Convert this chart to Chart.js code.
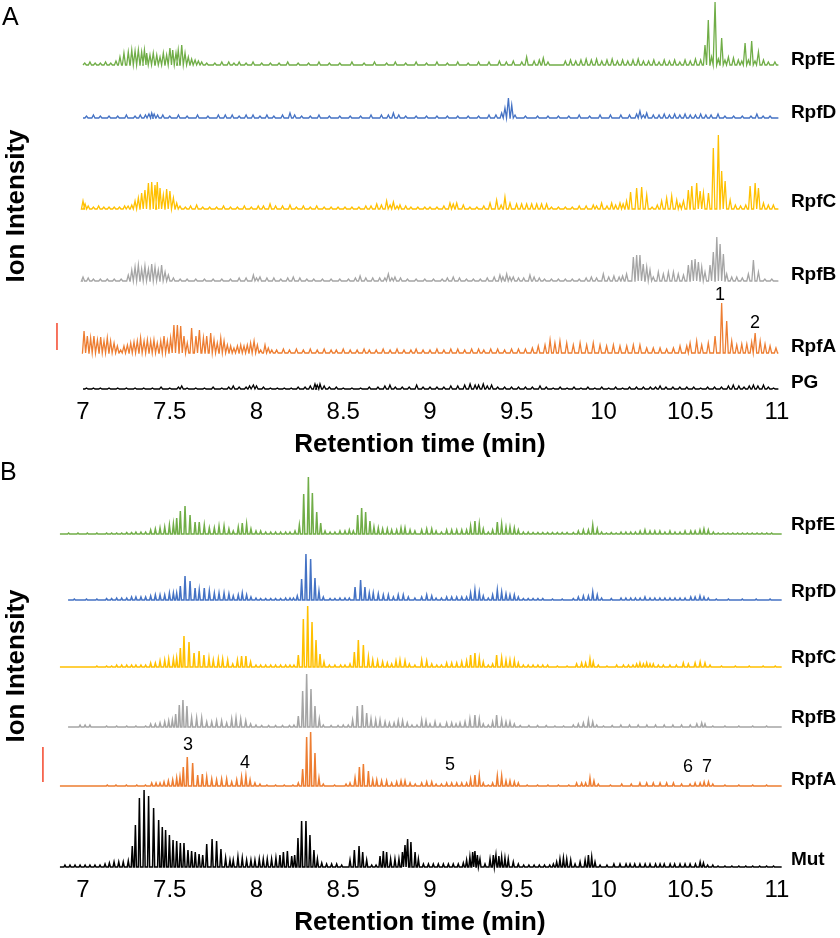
<!DOCTYPE html>
<html>
<head>
<meta charset="utf-8">
<script src="https://cdn.jsdelivr.net/npm/chart.js@4.4.1/dist/chart.umd.min.js"></script>
<style>
  body { margin: 0; background: #fff; }
  #wrap { position: relative; width: 840px; height: 938px; }
  .panel { position: absolute; left: 0; width: 840px; }
</style>
</head>
<body>
<div id="wrap">
  <div class="panel" style="top:0;height:462px"><canvas id="chartA"></canvas></div>
  <div class="panel" style="top:462px;height:476px"><canvas id="chartB"></canvas></div>
</div>
<script>
const FONT = "'Liberation Sans', Arial, Helvetica, sans-serif";

// x axis ticks (retention time, min)
const xTickValues = [7, 7.5, 8, 8.5, 9, 9.5, 10, 10.5, 11];

// ---- Panel A: peaks as [retention time, intensity] ----
const aRpfE = [[7.01,2],[7.04,3],[7.07,2],[7.10,2],[7.13,3],[7.16,2],[7.19,4],
  [7.213,8],[7.236,12],[7.261,13],[7.281,15],[7.300,14],[7.319,15],[7.338,13],[7.354,15],[7.367,12],[7.386,10],[7.405,12],[7.425,10],[7.444,8],[7.463,12],[7.482,10],[7.501,17],[7.517,15],[7.536,12],[7.549,15],[7.569,20],[7.588,12],[7.607,8],[7.626,6],[7.646,5],[7.665,4],[7.684,3],[7.713,2],
  [7.76,2],[7.80,3],[7.84,3],[7.87,2],[7.90,3],[7.94,2],[7.98,3],[8.03,2],[8.08,2],[8.13,2],[8.18,3],[8.24,2],[8.30,2],[8.36,3],[8.42,2],[8.48,2],[8.55,3],[8.62,2],[8.68,3],[8.75,2],[8.80,3],[8.86,2],[8.92,3],[8.98,2],[9.04,3],[9.10,2],[9.16,3],[9.22,2],[9.28,3],[9.34,3],[9.40,4],[9.44,3],[9.48,4],[9.529,3],[9.557,8],[9.60,4],[9.63,5],[9.653,7],[9.68,3],
  [9.78,4],[9.81,5],[9.84,4],[9.87,5],[9.90,6],[9.93,5],[9.96,6],[9.99,4],[10.02,5],[10.05,6],[10.08,4],[10.11,5],[10.14,4],[10.17,5],[10.20,6],[10.23,4],[10.26,4],[10.29,5],[10.32,3],[10.35,5],[10.38,4],[10.41,5],[10.44,3],[10.47,5],[10.50,4],[10.53,6],[10.56,5],
  [10.585,20],[10.604,45],[10.623,8],[10.643,63],[10.662,6],[10.681,27],[10.700,5],[10.720,8],[10.749,7],[10.777,5],[10.797,4],[10.816,22],[10.835,5],[10.854,24],[10.873,4],[10.893,13],[10.922,5],[10.950,3],[10.988,3]];

const aRpfD = [[7.02,2],[7.06,3],[7.10,2],[7.15,2],[7.20,2],[7.25,3],[7.30,2],[7.33,3],[7.36,3],[7.38,4],[7.396,5],[7.41,4],[7.43,3],[7.46,3],[7.50,2],[7.55,3],[7.60,2],[7.66,3],[7.72,2],[7.78,3],[7.82,3],[7.86,3],[7.90,2],[7.94,3],[7.98,3],[8.02,2],[8.06,3],[8.10,2],[8.15,3],[8.193,5],[8.22,3],[8.26,2],[8.31,2],[8.36,3],[8.42,2],[8.48,2],[8.54,2],[8.60,2],[8.66,3],[8.72,3],[8.76,3],[8.789,5],[8.82,3],[8.86,2],[8.92,2],[8.98,2],[9.04,2],[9.10,2],[9.16,2],[9.22,2],[9.28,2],[9.34,3],[9.38,3],
  [9.413,5],[9.432,10],[9.452,20],[9.471,13],[9.490,3],[9.55,2],[9.62,2],[9.68,2],[9.74,2],[9.80,2],[9.86,3],[9.92,2],[9.98,3],[10.04,3],[10.10,3],[10.15,3],[10.191,4],[10.210,7],[10.23,3],[10.249,5],[10.287,3],[10.32,3],[10.35,4],[10.38,3],[10.41,4],[10.44,3],[10.47,4],[10.50,3],[10.53,3],[10.56,4],[10.59,3],[10.62,3],[10.66,4],[10.70,2],[10.75,2],[10.80,2],[10.85,2],[10.884,4],[10.92,2],[10.96,2]];

const aRpfC = [[7.0,8],[7.012,5],[7.03,3],[7.06,2],[7.09,3],[7.12,2],[7.15,2],[7.18,2],[7.21,2],[7.24,3],[7.26,3],[7.281,4],[7.300,8],[7.319,11],[7.338,16],[7.357,19],[7.377,26],[7.396,27],[7.415,24],[7.428,27],[7.444,21],[7.463,14],[7.482,20],[7.501,18],[7.521,11],[7.540,6],[7.559,3],
  [7.59,2],[7.62,3],[7.655,4],[7.69,2],[7.73,2],[7.77,2],[7.81,3],[7.85,2],[7.89,2],[7.93,3],[7.97,2],[8.01,3],[8.04,3],[8.078,5],[8.11,3],[8.15,3],[8.193,4],[8.23,2],[8.27,3],[8.31,2],[8.347,3],[8.39,2],[8.43,2],[8.47,2],[8.51,2],[8.55,2],[8.59,2],[8.63,3],[8.66,3],[8.693,5],[8.72,4],[8.750,8],[8.77,4],[8.789,7],[8.81,3],[8.827,4],[8.86,3],[8.89,2],[8.93,2],[8.97,2],[9.00,2],[9.04,2],[9.08,3],
  [9.115,6],[9.134,5],[9.154,6],[9.192,4],[9.23,2],[9.27,2],[9.31,3],[9.346,6],[9.384,9],[9.41,4],[9.432,12],[9.461,6],[9.499,5],[9.528,5],[9.557,5],[9.586,5],[9.615,5],[9.643,5],[9.672,5],[9.70,2],[9.74,2],[9.78,2],[9.82,2],[9.86,3],[9.90,3],[9.941,4],[9.96,3],[9.989,6],[10.02,3],[10.047,6],[10.07,4],[10.095,6],[10.113,5],[10.133,8],
  [10.156,17],[10.191,21],[10.220,22],[10.249,14],[10.28,2],[10.31,4],[10.335,8],[10.364,11],[10.393,13],[10.422,9],[10.44,5],[10.461,8],[10.489,19],[10.509,23],[10.537,26],[10.557,18],[10.576,16],[10.605,16],[10.633,61],[10.662,74],[10.681,38],[10.701,28],[10.730,9],[10.76,4],[10.79,3],[10.82,4],[10.845,23],[10.874,26],[10.893,21],[10.922,6],[10.950,4],[10.979,4]];

const aRpfB = [[7.0,4],[7.03,3],[7.06,2],[7.10,2],[7.14,2],[7.18,2],[7.22,2],[7.261,6],[7.281,11],[7.300,14],[7.319,16],[7.338,12],[7.357,15],[7.377,12],[7.396,17],[7.415,14],[7.434,11],[7.453,16],[7.473,9],[7.492,6],[7.521,3],
  [7.56,2],[7.60,2],[7.65,2],[7.70,2],[7.75,2],[7.80,2],[7.85,2],[7.90,3],[7.94,3],[7.982,6],[8.00,3],[8.020,4],[8.06,3],[8.10,3],[8.14,2],[8.18,3],[8.212,4],[8.25,3],[8.29,2],[8.33,2],[8.38,2],[8.43,2],[8.48,2],[8.53,2],[8.57,3],[8.597,5],[8.63,3],[8.67,3],[8.71,3],[8.74,3],[8.760,7],[8.78,3],[8.798,4],[8.83,3],[8.87,2],[8.92,2],[8.97,2],[9.02,2],[9.07,2],[9.10,3],[9.134,4],[9.17,3],[9.21,2],[9.25,2],[9.29,2],[9.33,3],[9.37,4],[9.403,6],[9.42,4],[9.442,7],[9.460,4],[9.480,4],[9.51,3],[9.54,3],[9.576,6],[9.60,4],[9.63,3],[9.66,2],[9.70,2],[9.74,2],[9.78,2],[9.82,2],[9.86,2],[9.90,3],[9.93,4],[9.96,3],[9.999,7],[10.03,4],[10.06,5],[10.09,4],[10.11,5],[10.133,7],
  [10.172,24],[10.191,26],[10.210,26],[10.229,17],[10.249,14],[10.268,11],[10.287,4],[10.316,9],[10.345,7],[10.374,9],[10.403,9],[10.431,7],[10.461,6],[10.489,16],[10.509,21],[10.528,22],[10.547,19],[10.566,14],[10.585,9],[10.614,16],[10.633,29],[10.653,44],[10.672,37],[10.691,27],[10.710,7],[10.739,4],[10.768,4],[10.80,3],[10.835,7],[10.864,21],[10.893,9],[10.93,2],[10.97,2]];

const aRpfA = [[7.006,22],[7.025,17],[7.044,15],[7.063,17],[7.083,13],[7.102,16],[7.121,12],[7.140,15],[7.159,12],[7.179,10],[7.198,7],[7.217,3],[7.236,7],[7.256,8],[7.275,10],[7.294,11],[7.313,12],[7.332,15],[7.352,12],[7.371,13],[7.390,12],[7.409,13],[7.428,10],[7.448,12],[7.467,17],[7.486,12],[7.505,15],[7.524,28],[7.544,28],[7.563,27],[7.582,17],[7.601,10],[7.626,25],[7.651,17],[7.671,23],[7.694,15],[7.713,17],[7.736,20],[7.755,13],[7.774,10],[7.794,15],[7.813,12],[7.832,8],[7.851,7],[7.870,5],[7.890,7],[7.909,8],[7.928,7],[7.947,8],[7.966,10],[7.986,12],[8.005,8],[8.024,3],[8.049,8],[8.068,5],[8.088,3],[8.116,3],[8.155,4],
  [8.19,3],[8.23,4],[8.27,3],[8.31,4],[8.35,3],[8.39,4],[8.43,3],[8.46,3],[8.50,4],[8.54,3],[8.58,3],[8.62,4],[8.65,3],[8.69,3],[8.73,4],[8.77,3],[8.81,4],[8.85,3],[8.89,3],[8.92,4],[8.96,3],[9.00,3],[9.04,4],[9.08,3],[9.12,4],[9.16,4],[9.20,3],[9.24,4],[9.28,4],[9.31,3],[9.35,4],[9.39,4],[9.43,3],[9.47,4],[9.51,4],[9.55,4],[9.59,5],
  [9.624,7],[9.663,8],[9.692,13],[9.720,10],[9.749,12],[9.788,10],[9.826,8],[9.865,10],[9.903,8],[9.941,10],[9.980,8],[10.018,7],[10.057,8],[10.095,7],[10.134,7],[10.172,8],[10.210,8],[10.249,5],[10.287,5],[10.326,5],[10.364,4],[10.403,5],[10.441,7],[10.480,7],[10.499,10],[10.537,12],[10.566,8],[10.604,10],[10.643,17],[10.681,50],[10.710,32],[10.739,12],[10.768,8],[10.797,9],[10.826,9],[10.854,11],[10.874,20],[10.903,12],[10.931,9],[10.960,7],[10.994,5]];

const aPG = [[7.02,1],[7.06,1],[7.10,1],[7.15,1],[7.20,1],[7.25,1],[7.30,1],[7.35,1],[7.40,1],[7.45,2],[7.50,1],[7.55,2],[7.569,3],[7.60,1],[7.65,1],[7.70,1],[7.75,2],[7.80,1],[7.84,2],[7.866,3],[7.90,2],[7.94,2],[7.96,3],[7.982,4],[8.00,3],[8.04,2],[8.08,1],[8.12,1],[8.16,1],[8.20,1],[8.24,2],[8.28,2],[8.31,3],[8.337,5],[8.35,4],[8.366,5],[8.39,3],[8.42,2],[8.46,2],[8.50,1],[8.55,1],[8.60,1],[8.65,2],[8.70,2],[8.74,3],[8.769,4],[8.80,2],[8.84,2],[8.88,2],[8.923,4],[8.96,2],[9.00,2],[9.04,2],[9.08,2],[9.12,3],[9.16,3],[9.20,4],[9.231,5],[9.26,4],[9.28,4],[9.307,5],[9.33,3],[9.355,4],[9.39,2],[9.43,2],[9.47,2],[9.51,2],[9.55,2],[9.59,2],[9.634,3],[9.67,2],[9.71,1],[9.75,2],[9.79,1],[9.83,2],[9.87,1],[9.91,2],[9.95,1],[9.99,2],[10.03,1],[10.07,2],[10.11,1],[10.15,2],[10.19,2],[10.23,2],[10.27,2],[10.30,2],[10.326,3],[10.36,2],[10.40,2],[10.44,2],[10.48,2],[10.52,2],[10.56,1],[10.60,2],[10.64,2],[10.68,2],[10.72,3],[10.748,4],[10.78,3],[10.81,2],[10.84,3],[10.864,4],[10.89,3],[10.922,4],[10.95,2],[10.98,1]];

// ---- Panel B ----
const bRpfE = [[6.917,1],[6.971,1],[7.025,1],[7.080,1],[7.136,1],[7.165,1],[7.194,1],[7.223,1],[7.252,1.5],[7.280,1.5],[7.305,2],[7.334,2],[7.361,2],[7.390,4],[7.417,5],[7.444,6],[7.471,7],[7.498,9],[7.521,10],[7.540,16],[7.561,23],[7.588,28],[7.617,19],[7.646,12],[7.670,12],[7.699,9],[7.728,6],[7.757,6],[7.784,8],[7.813,8],[7.841,5],[7.866,3],[7.895,7],[7.918,11],[7.943,10],[7.968,5],[7.997,3],[8.024,3],[8.053,2],[8.082,2],[8.110,2],[8.139,2],[8.168,2],[8.193,2],[8.222,3],
  [8.247,9],[8.272,40],[8.299,57],[8.322,41],[8.347,22],[8.370,11],[8.395,3],[8.424,2],[8.452,2],[8.481,3],[8.510,3],[8.535,4],[8.558,3],[8.583,19],[8.606,26],[8.629,22],[8.654,13],[8.677,7],[8.702,6],[8.727,5],[8.754,5],[8.779,4],[8.808,4],[8.833,6],[8.856,6],[8.885,4],[8.913,3],[8.952,4],[8.981,5],[9.010,5],[9.035,3],[9.066,2],[9.096,4],[9.125,4],[9.154,4],[9.183,4],[9.211,4],[9.234,8],[9.259,13],[9.284,10],[9.307,5],[9.336,2],[9.361,4],[9.388,12],[9.413,10],[9.438,7],[9.461,7],[9.486,6],[9.509,4],
  [9.538,2],[9.566,2],[9.594,1.5],[9.622,1.5],[9.650,1.5],[9.678,1.5],[9.706,1.5],[9.734,1.5],[9.762,1.5],[9.790,1.5],[9.826,1.5],[9.855,3],[9.884,4],[9.913,4],[9.938,9],[9.964,5],[9.989,2],[10.017,1],[10.045,1.5],[10.073,1],[10.101,2],[10.129,2],[10.157,2],[10.184,2],[10.211,3],[10.239,4],[10.268,3],[10.296,3],[10.325,3],[10.354,2],[10.383,3],[10.412,2],[10.441,2],[10.470,3],[10.503,3],[10.528,3],[10.556,4],[10.579,5],[10.604,4],[10.633,2],[10.661,1],[10.689,1],[10.717,1],[10.745,1],[10.773,1],[10.801,1],[10.829,1],[10.857,1],[10.885,1],[10.913,1],[10.941,1],[10.969,1]];

const bRpfD = [[6.95,1],[7.02,1],[7.08,1],[7.136,1.5],[7.165,1.5],[7.194,2],[7.223,2],[7.252,2],[7.280,3],[7.305,3],[7.334,3],[7.361,3],[7.390,4],[7.417,5],[7.444,5],[7.471,5],[7.498,7],[7.521,7],[7.540,7],[7.561,14],[7.588,24],[7.617,19],[7.646,12],[7.670,10],[7.699,12],[7.728,9],[7.757,7],[7.784,7],[7.813,7],[7.841,6],[7.866,4],[7.895,5],[7.918,7],[7.943,5],[7.968,3],[7.997,2],[8.024,1.5],[8.053,1.5],[8.082,1.5],[8.110,1.5],[8.139,1.5],[8.168,2],[8.193,2],[8.213,2],
  [8.235,4],[8.260,21],[8.285,46],[8.312,41],[8.337,22],[8.360,9],[8.385,3],[8.424,1.5],[8.452,1.5],[8.481,2],[8.510,2],[8.535,2],[8.568,13],[8.600,20],[8.625,13],[8.650,7],[8.673,7],[8.702,6],[8.731,5],[8.760,5],[8.789,3],[8.817,5],[8.846,5],[8.875,3],[8.913,2],[8.952,3],[8.981,5],[9.010,4],[9.035,2],[9.066,2],[9.096,3],[9.125,3],[9.154,3],[9.183,3],[9.211,3],[9.234,7],[9.259,10],[9.284,8],[9.307,4],[9.336,2],[9.361,5],[9.388,10],[9.413,8],[9.438,6],[9.461,5],[9.486,5],[9.509,3],
  [9.538,1.5],[9.566,1.5],[9.594,1.5],[9.622,1.5],[9.650,1.5],[9.706,1],[9.762,1],[9.826,1.5],[9.855,3],[9.884,4],[9.913,4],[9.938,8],[9.964,5],[9.989,2],[10.045,1.5],[10.101,2],[10.129,2],[10.157,2],[10.184,2],[10.211,2],[10.239,3],[10.268,2],[10.296,2],[10.325,2],[10.354,2],[10.383,2],[10.412,2],[10.441,2],[10.470,2],[10.503,3],[10.528,3],[10.556,4],[10.579,3],[10.604,2],[10.65,1],[10.72,1],[10.80,1],[10.88,1],[10.96,1]];

const bRpfC = [[7.08,1],[7.136,1],[7.165,1],[7.194,2],[7.223,2],[7.252,2],[7.280,2],[7.305,2],[7.334,2],[7.361,2],[7.390,4],[7.417,4],[7.444,6],[7.471,7],[7.494,8],[7.521,8],[7.540,9],[7.561,19],[7.582,31],[7.611,25],[7.640,14],[7.669,16],[7.697,12],[7.726,9],[7.751,7],[7.780,8],[7.805,8],[7.834,7],[7.863,3],[7.890,7],[7.914,11],[7.939,11],[7.966,5],[7.997,2],[8.024,2],[8.053,2],[8.082,2],[8.110,2],[8.139,2],[8.168,2],[8.193,2],[8.216,2],
  [8.241,12],[8.270,48],[8.295,61],[8.320,45],[8.343,27],[8.366,13],[8.389,5],[8.420,2],[8.452,2],[8.485,2],[8.510,2],[8.539,3],[8.564,15],[8.587,27],[8.616,22],[8.645,10],[8.670,7],[8.698,6],[8.727,5],[8.754,4],[8.779,3],[8.804,6],[8.827,7],[8.856,6],[8.881,3],[8.913,2],[8.952,7],[8.981,6],[9.010,3],[9.039,2],[9.066,2],[9.096,4],[9.125,4],[9.154,4],[9.183,5],[9.211,6],[9.234,12],[9.259,14],[9.284,9],[9.307,5],[9.336,2],[9.361,3],[9.384,12],[9.413,9],[9.438,7],[9.461,7],[9.486,7],[9.509,4],
  [9.538,2],[9.566,2],[9.594,2],[9.622,2],[9.650,2],[9.678,2],[9.734,1],[9.790,1],[9.845,3],[9.874,4],[9.897,4],[9.922,8],[9.941,5],[9.970,2],[10.020,1],[10.076,2],[10.115,2],[10.144,2],[10.170,2],[10.191,3],[10.210,4],[10.230,3],[10.249,4],[10.268,3],[10.287,3],[10.316,2],[10.345,2],[10.383,2],[10.420,2],[10.460,4],[10.489,3],[10.528,4],[10.557,5],[10.585,4],[10.614,2],[10.68,1],[10.76,1],[10.84,1],[10.92,1],[10.99,1]];

const bRpfB = [[6.983,2],[7.012,2],[7.040,2],[7.136,1],[7.194,1],[7.252,1],[7.305,1],[7.361,1],[7.390,3],[7.417,3],[7.444,4],[7.471,5],[7.494,6],[7.515,7],[7.534,13],[7.555,22],[7.576,27],[7.599,21],[7.626,9],[7.655,9],[7.684,9],[7.713,5],[7.742,5],[7.770,6],[7.799,6],[7.828,4],[7.857,8],[7.882,9],[7.909,8],[7.938,6],[7.966,3],[7.997,2],[8.030,1.5],[8.070,1.5],[8.110,1.5],[8.150,1.5],[8.190,1.5],[8.216,2],
  [8.241,11],[8.266,36],[8.289,53],[8.314,38],[8.337,21],[8.362,8],[8.385,2],[8.43,1.5],[8.47,1.5],[8.500,2],[8.529,2],[8.554,7],[8.581,21],[8.610,22],[8.635,14],[8.660,8],[8.687,7],[8.712,7],[8.741,5],[8.766,4],[8.793,4],[8.817,6],[8.842,6],[8.869,4],[8.896,2],[8.925,2],[8.952,7],[8.977,6],[9.000,3],[9.029,5],[9.058,3],[9.096,4],[9.125,4],[9.150,3],[9.173,4],[9.202,5],[9.230,8],[9.259,12],[9.284,8],[9.307,3],[9.336,2],[9.361,5],[9.384,12],[9.413,7],[9.438,5],[9.461,5],[9.486,3],
  [9.52,1.5],[9.57,1.5],[9.62,1.5],[9.67,1.5],[9.72,1],[9.77,1],[9.826,2],[9.855,3],[9.884,4],[9.913,7],[9.938,5],[9.961,2],[10.00,1],[10.05,1.5],[10.10,2],[10.15,2],[10.20,2],[10.25,2],[10.30,2],[10.35,2],[10.40,2],[10.45,2],[10.50,2],[10.538,3],[10.566,4],[10.585,3],[10.63,1],[10.70,1],[10.78,1],[10.86,1],[10.94,1]];

const bRpfA = [[7.14,1],[7.19,1],[7.25,1],[7.31,1],[7.36,1],[7.396,3],[7.421,3],[7.444,3],[7.467,4],[7.492,5],[7.517,6],[7.540,8],[7.559,9],[7.578,19],[7.601,29],[7.632,23],[7.661,11],[7.688,12],[7.713,9],[7.742,7],[7.770,6],[7.799,7],[7.828,7],[7.857,4],[7.886,6],[7.914,9],[7.939,10],[7.963,6],[7.991,3],[8.020,2],[8.06,1],[8.11,1],[8.16,1],[8.21,1],
  [8.241,3],[8.266,17],[8.289,49],[8.312,54],[8.337,33],[8.360,8],[8.385,2],[8.45,1],[8.516,2],[8.539,3],[8.568,8],[8.593,19],[8.616,22],[8.645,15],[8.670,6],[8.693,6],[8.721,5],[8.750,5],[8.779,3],[8.808,4],[8.833,5],[8.856,5],[8.885,3],[8.915,2],[8.952,3],[8.981,4],[9.010,4],[9.035,2],[9.066,2],[9.096,3],[9.125,3],[9.154,3],[9.183,3],[9.211,3],[9.234,7],[9.259,11],[9.284,10],[9.307,3],[9.336,1],[9.361,3],[9.388,10],[9.413,10],[9.438,5],[9.461,5],[9.486,4],[9.509,3],
  [9.56,1],[9.62,1],[9.68,1],[9.74,1],[9.80,1],[9.845,3],[9.874,3],[9.897,3],[9.922,8],[9.945,5],[9.970,2],[10.04,1],[10.105,2],[10.16,2],[10.210,3],[10.249,3],[10.287,3],[10.326,3],[10.364,3],[10.403,3],[10.45,2],[10.499,2],[10.528,3],[10.557,3],[10.580,4],[10.605,4],[10.630,2],[10.70,1],[10.78,1],[10.86,1],[10.94,1]];

const bMut = [[6.896,2],[6.925,2],[6.954,2],[6.983,2],[7.012,2],[7.040,2],[7.069,2],[7.098,2],[7.127,3],[7.152,4],[7.179,5],[7.206,5],[7.232,5],[7.261,6],[7.284,21],[7.302,42],[7.325,69],[7.352,77],[7.378,71],[7.407,59],[7.436,47],[7.457,40],[7.476,37],[7.498,32],[7.519,27],[7.540,26],[7.561,24],[7.582,24],[7.605,17],[7.626,16],[7.647,15],[7.669,13],[7.690,12],[7.713,23],[7.744,28],[7.770,26],[7.795,18],[7.822,9],[7.847,7],[7.866,7],[7.893,10],[7.918,9],[7.943,7],[7.968,7],[7.991,7],[8.016,8],[8.039,8],[8.062,8],[8.087,8],[8.112,9],[8.135,12],[8.155,15],[8.178,16],[8.203,11],[8.220,12],
  [8.239,29],[8.260,46],[8.285,46],[8.308,32],[8.331,17],[8.351,8],[8.376,4],[8.404,3],[8.433,3],[8.462,3],[8.491,2],[8.539,7],[8.564,17],[8.591,21],[8.612,15],[8.635,7],[8.664,2],[8.689,2],[8.712,11],[8.731,16],[8.750,15],[8.773,8],[8.798,8],[8.821,8],[8.841,15],[8.856,22],[8.871,28],[8.890,25],[8.914,15],[8.933,8],
  [8.962,3],[8.991,3],[9.019,3],[9.048,3],[9.077,3],[9.106,3],[9.134,3],[9.163,3],[9.192,4],[9.211,7],[9.230,10],[9.246,15],[9.259,16],[9.273,12],[9.288,8],[9.317,3],[9.346,8],[9.365,12],[9.380,12],[9.397,11],[9.413,10],[9.432,9],[9.451,8],[9.480,5],[9.509,3],[9.54,2],[9.57,2],[9.60,2],[9.63,2],[9.66,2],[9.69,2],[9.711,3],[9.730,5],[9.749,8],[9.769,9],[9.788,8],[9.811,7],[9.836,3],[9.865,5],[9.894,7],[9.913,12],[9.932,10],[9.951,5],[9.980,2],
  [10.02,2],[10.06,3],[10.095,3],[10.13,3],[10.153,3],[10.18,3],[10.210,3],[10.24,3],[10.268,3],[10.30,3],[10.326,3],[10.35,3],[10.384,3],[10.41,3],[10.441,3],[10.47,3],[10.499,3],[10.53,3],[10.557,5],[10.576,4],[10.60,2],[10.63,2],[10.66,1],[10.70,1],[10.74,1],[10.78,1],[10.82,1],[10.86,1],[10.90,1],[10.94,1],[10.98,1]];

// ---- colours ----
const GREEN = '#70ad47', BLUE = '#4472c4', YELLOW = '#ffc000', GREY = '#a5a5a5', ORANGE = '#ed7d31', BLACK = '#000000', RED = '#f4462b';

// ---- layout: x range so that 7 min and 11 min land under their labels ----
const X_MIN = 6.5216, X_MAX = 11.3631;
const LABEL_X = 11.08;

const panelA = {
  canvas: 'chartA', yMax: 396, padTop: 0, titlePad: {top: 0.6, bottom: 1.4}, halfWidth: 0.009, lineWidth: 1.3,
  traces: [
    {name: 'RpfE', peaks: aRpfE, color: GREEN,  base: 331, labelY: 336, start: 7.0, end: 11.008},
    {name: 'RpfD', peaks: aRpfD, color: BLUE,   base: 278, labelY: 283, start: 7.0, end: 11.008},
    {name: 'RpfC', peaks: aRpfC, color: YELLOW, base: 187, labelY: 194, start: 7.0, end: 11.008},
    {name: 'RpfB', peaks: aRpfB, color: GREY,   base: 115, labelY: 121, start: 7.0, end: 11.008},
    {name: 'RpfA', peaks: aRpfA, color: ORANGE, base: 43,  labelY: 49,  start: 7.0, end: 11.008},
    {name: 'PG',   peaks: aPG,   color: BLACK,  base: 7,   labelY: 13,  start: 7.0, end: 11.008}
  ],
  marks: [{text: '1', x: 10.671, y: 101}, {text: '2', x: 10.873, y: 73}],
  bar: {x: 6.85, y0: 46, y1: 73},
  letter: {text: 'A', x: 2, y: 18},
  yTitleY: 206
};

const panelB = {
  canvas: 'chartB', yMax: 398, padTop: 14, titlePad: {top: 0, bottom: 0}, halfWidth: 0.006, lineWidth: 1.5,
  traces: [
    {name: 'RpfE', peaks: bRpfE, color: GREEN,  base: 340, labelY: 349, start: 6.867, end: 11.027},
    {name: 'RpfD', peaks: bRpfD, color: BLUE,   base: 274, labelY: 282, start: 6.914, end: 11.027},
    {name: 'RpfC', peaks: bRpfC, color: YELLOW, base: 207, labelY: 216, start: 6.867, end: 11.027},
    {name: 'RpfB', peaks: bRpfB, color: GREY,   base: 147, labelY: 156, start: 6.914, end: 11.027},
    {name: 'RpfA', peaks: bRpfA, color: ORANGE, base: 88,  labelY: 94,  start: 6.867, end: 11.027},
    {name: 'Mut',  peaks: bMut,  color: BLACK,  base: 7,   labelY: 14,  start: 6.867, end: 11.027}
  ],
  marks: [{text: '3', x: 7.605, y: 129}, {text: '4', x: 7.934, y: 111}, {text: '5', x: 9.115, y: 109},
          {text: '6', x: 10.487, y: 107}, {text: '7', x: 10.597, y: 107}],
  bar: {x: 6.769, y0: 92, y1: 127},
  letter: {text: 'B', x: 0, y: 11},
  yTitleY: 204
};

// each peak becomes a narrow spike standing on the trace baseline
function spikes(trace, w) {
  const pts = [{x: trace.start, y: trace.base}];
  trace.peaks.forEach(([t, h]) => {
    pts.push({x: t - w, y: trace.base}, {x: t, y: trace.base + h}, {x: t + w, y: trace.base});
  });
  pts.push({x: trace.end, y: trace.base});
  return pts;
}

function textPlugin(panel) {
  return {
    id: 'panelText',
    afterDraw(chart) {
      const ctx = chart.ctx, xs = chart.scales.x, ys = chart.scales.y;
      ctx.save();
      ctx.fillStyle = '#000';
      ctx.textBaseline = 'middle';
      ctx.font = 'bold 19px ' + FONT;
      ctx.textAlign = 'left';
      panel.traces.forEach(t => ctx.fillText(t.name, xs.getPixelForValue(LABEL_X), ys.getPixelForValue(t.labelY)));
      ctx.font = '18px ' + FONT;
      ctx.textAlign = 'center';
      panel.marks.forEach(m => ctx.fillText(m.text, xs.getPixelForValue(m.x), ys.getPixelForValue(m.y)));
      ctx.font = '25px ' + FONT;
      ctx.textAlign = 'left';
      ctx.fillText(panel.letter.text, panel.letter.x, panel.letter.y);
      ctx.translate(17, panel.yTitleY);
      ctx.rotate(-Math.PI / 2);
      ctx.font = 'bold 26px ' + FONT;
      ctx.textAlign = 'center';
      ctx.fillText('Ion Intensity', 0, 0);
      ctx.restore();
    }
  };
}

function buildChart(panel) {
  const ctx = document.getElementById(panel.canvas);
  const datasets = panel.traces.map(t => ({
    label: t.name,
    data: spikes(t, panel.halfWidth),
    borderColor: t.color,
    borderWidth: panel.lineWidth,
    pointRadius: 0,
    tension: 0,
    fill: false
  }));
  datasets.push({
    label: 'scale',
    data: [{x: panel.bar.x, y: panel.bar.y0}, {x: panel.bar.x, y: panel.bar.y1}],
    borderColor: RED,
    borderWidth: 1.5,
    pointRadius: 0
  });

  return new Chart(ctx, {
    type: 'line',
    data: {datasets: datasets},
    options: {
      responsive: true,
      maintainAspectRatio: false,
      animation: false,
      layout: {padding: {top: panel.padTop, left: 0, right: 0, bottom: 0}},
      plugins: {
        legend: {display: false},
        tooltip: {enabled: false}
      },
      scales: {
        x: {
          type: 'linear',
          min: X_MIN,
          max: X_MAX,
          afterBuildTicks: function (scale) {
            scale.ticks = xTickValues.map(v => ({value: v}));
          },
          grid: {display: false, drawTicks: false},
          border: {display: false},
          ticks: {
            color: '#000',
            padding: 2,
            maxRotation: 0,
            autoSkip: false,
            font: {family: FONT, size: 24},
            callback: function (value) {
              return String(value);
            }
          },
          title: {
            display: true,
            text: 'Retention time (min)',
            color: '#000',
            font: {family: FONT, size: 26, weight: 'bold'},
            padding: panel.titlePad
          }
        },
        y: {display: false, min: 0, max: panel.yMax}
      }
    },
    plugins: [textPlugin(panel)]
  });
}

buildChart(panelA);
buildChart(panelB);
</script>
</body>
</html>
